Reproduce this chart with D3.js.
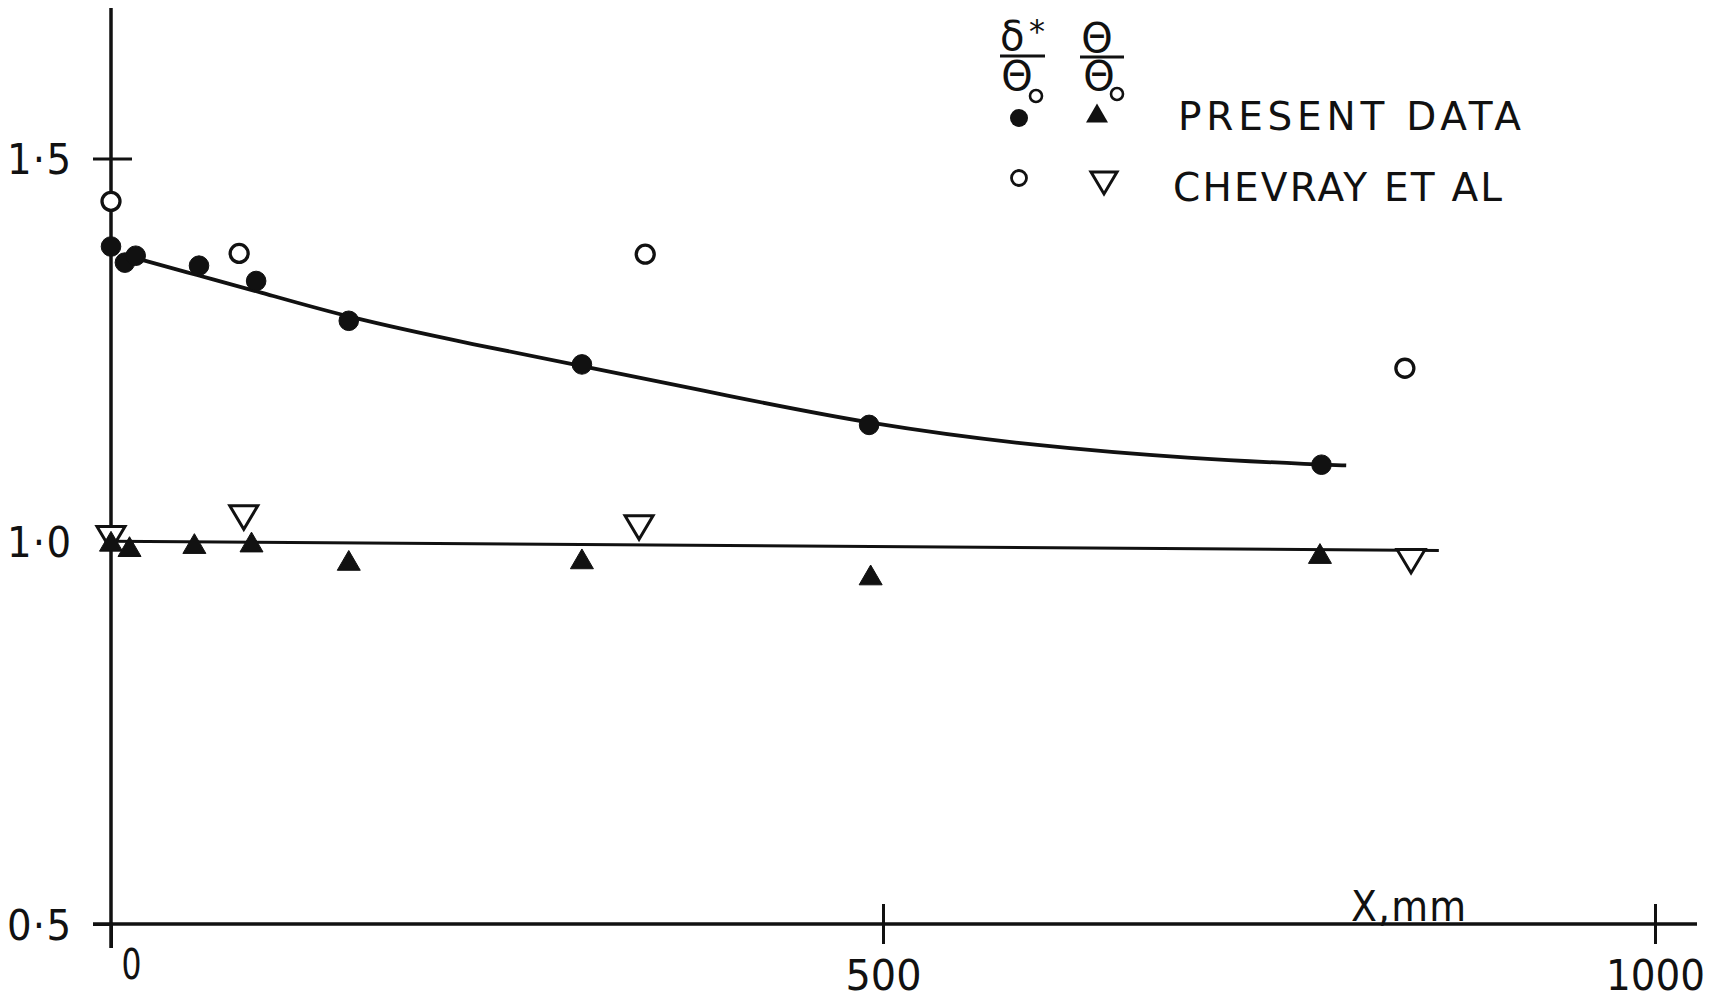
<!DOCTYPE html>
<html>
<head>
<meta charset="utf-8">
<script src="https://cdn.jsdelivr.net/npm/d3@7"></script>
<style>
  html, body { margin: 0; padding: 0; background: #fff; }
  svg { display: block; }
  text { font-family: "DejaVu Sans Condensed", "Liberation Sans", sans-serif; fill: #111; }
  .wide { font-family: "DejaVu Sans", "Liberation Sans", sans-serif; }
</style>
</head>
<body>
<svg id="chart" width="1719" height="1003"></svg>
<script>
// Streamwise development of displacement and momentum thickness ratios

// Present data, delta*/theta0
const presentDeltaX = [0, 9, 16, 57, 94, 154, 305, 491, 784];
const presentDelta  = [1.385, 1.364, 1.373, 1.360, 1.340, 1.288, 1.231, 1.152, 1.100];

// Present data, theta/theta0
const presentThetaX = [0, 12, 54, 91, 154, 305, 492, 783];
const presentTheta  = [1.000, 0.993, 0.997, 0.999, 0.975, 0.977, 0.956, 0.984];

// Chevray et al, delta*/theta0
const chevrayDeltaX = [0, 83, 346, 838];
const chevrayDelta  = [1.444, 1.376, 1.375, 1.226];

// Chevray et al, theta/theta0
const chevrayThetaX = [0, 86, 342, 842];
const chevrayTheta  = [1.004, 1.031, 1.018, 0.974];

// Faired curve through delta*/theta0
const fitX = [12, 57, 94, 154, 230, 305, 400, 491, 600, 700, 784, 800];
const fitY = [1.372, 1.347, 1.327, 1.292, 1.259, 1.229, 1.190, 1.153, 1.124, 1.108, 1.100, 1.099];

// Reference line through theta/theta0
const refX = [0, 860];
const refY = [1.000, 0.988];

// Axis ticks
const xTicks = [0, 500, 1000];
const xTickLabels = ["0", "500", "1000"];
const yTicks = [0.5, 1.0, 1.5];
const yTickLabels = ["0·5", "1·0", "1·5"];

const svg = d3.select("#chart");
const ink = "#111";

const x = d3.scaleLinear().domain([0, 1000]).range([111, 1655]);
const y = d3.scaleLinear().domain([0.5, 1.5]).range([924, 158.5]);

// Triangle symbols centred on their bounding box
const triUp = {
  draw(ctx, size) {
    const w = Math.sqrt(size), h = w * 0.86;
    ctx.moveTo(0, -h / 2); ctx.lineTo(w / 2, h / 2); ctx.lineTo(-w / 2, h / 2); ctx.closePath();
  }
};
const triDown = {
  draw(ctx, size) {
    const w = Math.sqrt(size), h = w * 0.84;
    ctx.moveTo(-w / 2, -h / 2); ctx.lineTo(w / 2, -h / 2); ctx.lineTo(0, h / 2); ctx.closePath();
  }
};

const fontStack = '"DejaVu Sans Condensed", "Liberation Sans", sans-serif';

// ---- Axes ----
const xAxis = svg.append("g")
  .attr("transform", `translate(0,${y(0.5)})`)
  .call(d3.axisBottom(x).tickValues(xTicks).tickFormat((d, i) => xTickLabels[i]).tickSizeOuter(0));
xAxis.select(".domain").attr("d", `M93,0H1697`).attr("stroke", ink).attr("stroke-width", 3.5);
xAxis.selectAll(".tick line")
  .attr("stroke", ink).attr("stroke-width", 3)
  .attr("y1", d => d === 0 ? 0 : -20).attr("y2", d => d === 0 ? 24 : 20);
xAxis.selectAll(".tick text")
  .attr("y", 0).attr("dy", d => d === 0 ? 55 : 66)
  .attr("dx", d => d === 0 ? 20 : 0)
  .style("font-size", d => d === 0 ? "42px" : "43px")
  .attr("textLength", d => d === 0 ? 20 : d === 500 ? 76 : 99)
  .attr("lengthAdjust", "spacingAndGlyphs")
  .style("font-family", fontStack)
  .attr("fill", ink);

const yAxis = svg.append("g")
  .attr("transform", `translate(${x(0)},0)`)
  .call(d3.axisLeft(y).tickValues(yTicks).tickFormat((d, i) => yTickLabels[i]).tickSizeOuter(0));
yAxis.select(".domain").attr("d", `M0,8V948`).attr("stroke", ink).attr("stroke-width", 3.5);
yAxis.selectAll(".tick line")
  .attr("stroke", ink).attr("stroke-width", 3)
  .attr("x1", d => d === 1.0 ? 0 : -18)
  .attr("x2", d => d === 1.5 ? 21 : 0);
yAxis.selectAll(".tick text")
  .attr("x", -40).attr("dy", "0.36em")
  .style("font-size", "43px")
  .attr("textLength", 64)
  .attr("lengthAdjust", "spacing")
  .style("font-family", fontStack)
  .attr("fill", ink);

svg.append("text")
  .attr("x", 1351).attr("y", 921)
  .style("font-size", "42px")
  .attr("textLength", 115).attr("lengthAdjust", "spacing")
  .text("X,mm");

// ---- Lines ----
svg.append("path")
  .datum(fitX.map((v, i) => [v, fitY[i]]))
  .attr("d", d3.line().x(d => x(d[0])).y(d => y(d[1])).curve(d3.curveBasis))
  .attr("fill", "none").attr("stroke", ink).attr("stroke-width", 3.8);
svg.append("path")
  .datum(refX.map((v, i) => [v, refY[i]]))
  .attr("d", d3.line().x(d => x(d[0])).y(d => y(d[1])))
  .attr("fill", "none").attr("stroke", ink).attr("stroke-width", 3);

// ---- Markers ----
function plotSymbols(xs, ys, type, size, filled, sw) {
  svg.append("g").selectAll("path")
    .data(xs.map((v, i) => [v, ys[i]]))
    .join("path")
    .attr("transform", d => `translate(${x(d[0])},${y(d[1])})`)
    .attr("d", d3.symbol().type(type).size(size))
    .attr("fill", filled ? ink : "#fff")
    .attr("stroke", ink).attr("stroke-width", sw);
}
plotSymbols(chevrayDeltaX, chevrayDelta, d3.symbolCircle, Math.PI * 9 * 9, false, 3.3);
plotSymbols(chevrayThetaX, chevrayTheta, triDown, 28 * 28, false, 3);
plotSymbols(presentDeltaX, presentDelta, d3.symbolCircle, Math.PI * 9.8 * 9.8, true, 1);
plotSymbols(presentThetaX, presentTheta, triUp, 23 * 23, true, 1);

// ---- Legend ----
const leg = svg.append("g");
// delta*/theta0 heading
leg.append("text").attr("class", "wide").attr("x", 1000).attr("y", 50).style("font-size", "40px").text("δ");
leg.append("text").attr("class", "wide").attr("x", 1029).attr("y", 42).style("font-size", "32px").text("*");
leg.append("line").attr("x1", 1000).attr("x2", 1045).attr("y1", 56).attr("y2", 56)
  .attr("stroke", ink).attr("stroke-width", 3);
leg.append("text").attr("class", "wide").attr("x", 1017).attr("y", 90).attr("text-anchor", "middle")
  .style("font-size", "40px").text("Θ");
leg.append("circle").attr("cx", 1036).attr("cy", 96).attr("r", 6)
  .attr("fill", "none").attr("stroke", ink).attr("stroke-width", 2.6);
// theta/theta0 heading
leg.append("text").attr("class", "wide").attr("x", 1097).attr("y", 52).attr("text-anchor", "middle")
  .style("font-size", "40px").text("Θ");
leg.append("line").attr("x1", 1080).attr("x2", 1124).attr("y1", 57).attr("y2", 57)
  .attr("stroke", ink).attr("stroke-width", 3);
leg.append("text").attr("class", "wide").attr("x", 1099).attr("y", 90).attr("text-anchor", "middle")
  .style("font-size", "40px").text("Θ");
leg.append("circle").attr("cx", 1117).attr("cy", 94).attr("r", 6)
  .attr("fill", "none").attr("stroke", ink).attr("stroke-width", 2.6);

// legend symbols
leg.append("path").attr("transform", "translate(1019,118)")
  .attr("d", d3.symbol().type(d3.symbolCircle).size(Math.PI * 9 * 9)).attr("fill", ink);
leg.append("path").attr("transform", "translate(1097,113)")
  .attr("d", d3.symbol().type(triUp).size(22 * 22)).attr("fill", ink);
leg.append("path").attr("transform", "translate(1019,178)")
  .attr("d", d3.symbol().type(d3.symbolCircle).size(Math.PI * 7.5 * 7.5))
  .attr("fill", "#fff").attr("stroke", ink).attr("stroke-width", 2.8);
leg.append("path").attr("transform", "translate(1104,183)")
  .attr("d", d3.symbol().type(triDown).size(26 * 26))
  .attr("fill", "#fff").attr("stroke", ink).attr("stroke-width", 3);

leg.append("text").attr("class", "wide").attr("x", 1178).attr("y", 130).style("font-size", "39px")
  .attr("textLength", 343).attr("lengthAdjust", "spacing").text("PRESENT DATA");
leg.append("text").attr("class", "wide").attr("x", 1173).attr("y", 201).style("font-size", "39px")
  .attr("textLength", 329).attr("lengthAdjust", "spacing").text("CHEVRAY ET AL");
</script>
</body>
</html>
